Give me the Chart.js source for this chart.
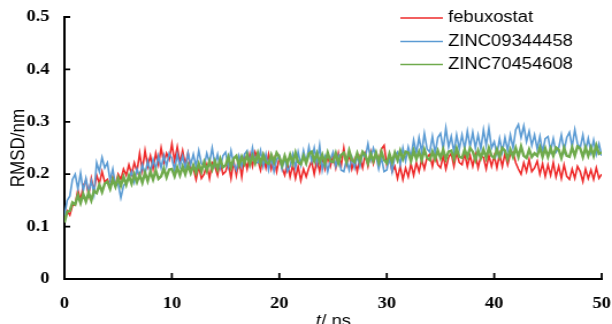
<!DOCTYPE html>
<html>
<head>
<meta charset="utf-8">
<script src="https://cdn.jsdelivr.net/npm/chart.js@4"></script>
<style>
  html, body { margin: 0; padding: 0; background: #fff; overflow: hidden; }
  /* the reference figure is stretched horizontally, so the chart is drawn narrower and scaled */
  #wrap { width: 532px; height: 324px; transform: scaleX(1.1504); transform-origin: 0 0; }
</style>
</head>
<body>
<div id="wrap"><canvas id="rmsd" width="532" height="324"></canvas></div>
<script>
// time step of the samples (ns)
const T_STEP = 0.25;

const seriesNames = ['febuxostat', 'ZINC09344458', 'ZINC70454608'];
const seriesColors = ['#ee2a2a', '#5b9bd3', '#6faa4c'];

// RMSD (nm), one row per ns, 4 samples per row
const febuxostat = [
  0.112, 0.13, 0.122, 0.14,
  0.142, 0.17, 0.15, 0.178,
  0.188, 0.16, 0.192, 0.168,
  0.198, 0.182, 0.205, 0.185,
  0.19, 0.175, 0.195, 0.178,
  0.2, 0.19, 0.21, 0.198,
  0.218, 0.2, 0.222, 0.205,
  0.24, 0.208, 0.245, 0.215,
  0.235, 0.21, 0.24, 0.218,
  0.25, 0.222, 0.24, 0.228,
  0.258, 0.225, 0.252, 0.222,
  0.245, 0.218, 0.24, 0.21,
  0.212, 0.19, 0.215, 0.192,
  0.2, 0.218, 0.192, 0.222,
  0.215, 0.198, 0.225, 0.2,
  0.205, 0.222, 0.192, 0.225,
  0.198, 0.228, 0.195, 0.232,
  0.21, 0.238, 0.215, 0.242,
  0.228, 0.208, 0.235, 0.212,
  0.238, 0.21, 0.23, 0.205,
  0.232, 0.212, 0.198, 0.222,
  0.195, 0.218, 0.192, 0.215,
  0.188, 0.21, 0.195, 0.212,
  0.225, 0.2, 0.228, 0.205,
  0.232, 0.21, 0.235, 0.215,
  0.235, 0.212, 0.24, 0.215,
  0.25, 0.218, 0.238, 0.21,
  0.228, 0.205, 0.232, 0.212,
  0.238, 0.215, 0.242, 0.22,
  0.24, 0.225, 0.248, 0.255,
  0.218, 0.232, 0.205, 0.215,
  0.192, 0.215, 0.19, 0.212,
  0.195, 0.22, 0.198, 0.222,
  0.205, 0.228, 0.21, 0.232,
  0.238, 0.215, 0.24, 0.218,
  0.212, 0.235, 0.21, 0.232,
  0.24, 0.215, 0.242, 0.222,
  0.218, 0.24, 0.215, 0.236,
  0.215, 0.238, 0.212, 0.235,
  0.232, 0.21, 0.236, 0.215,
  0.235, 0.212, 0.238, 0.215,
  0.24, 0.218, 0.238, 0.242,
  0.222, 0.21, 0.2, 0.222,
  0.205, 0.228, 0.205, 0.212,
  0.225, 0.2, 0.22, 0.196,
  0.218, 0.198, 0.222, 0.195,
  0.215, 0.192, 0.218, 0.196,
  0.19, 0.21, 0.192, 0.215,
  0.205, 0.186, 0.21, 0.192,
  0.208, 0.19, 0.212, 0.192,
  0.2
];

const zinc09344458 = [
  0.12, 0.15, 0.158, 0.19,
  0.2, 0.172, 0.202, 0.168,
  0.192, 0.165, 0.188, 0.162,
  0.222, 0.205, 0.232, 0.212,
  0.222, 0.188, 0.21, 0.178,
  0.182, 0.155, 0.178, 0.185,
  0.19, 0.205, 0.185, 0.21,
  0.195, 0.218, 0.2, 0.225,
  0.205, 0.228, 0.21, 0.235,
  0.212, 0.236, 0.215, 0.24,
  0.23, 0.208, 0.238, 0.215,
  0.235, 0.21, 0.24, 0.218,
  0.238, 0.215, 0.245, 0.22,
  0.215, 0.24, 0.222, 0.25,
  0.218, 0.238, 0.212, 0.235,
  0.242, 0.215, 0.245, 0.22,
  0.208, 0.235, 0.215, 0.238,
  0.245, 0.218, 0.25, 0.222,
  0.222, 0.245, 0.215, 0.238,
  0.208, 0.232, 0.205, 0.228,
  0.235, 0.21, 0.232, 0.205,
  0.215, 0.238, 0.212, 0.242,
  0.218, 0.245, 0.222, 0.252,
  0.225, 0.25, 0.22, 0.255,
  0.208, 0.232, 0.205, 0.228,
  0.242, 0.215, 0.235, 0.208,
  0.205, 0.228, 0.208, 0.232,
  0.212, 0.235, 0.215, 0.24,
  0.232, 0.258, 0.228, 0.25,
  0.235, 0.21, 0.232, 0.205,
  0.208, 0.232, 0.205, 0.235,
  0.242, 0.218, 0.25, 0.225,
  0.252, 0.232, 0.265, 0.24,
  0.27, 0.242, 0.278, 0.248,
  0.242, 0.272, 0.24, 0.27,
  0.278, 0.248, 0.288, 0.252,
  0.272, 0.242, 0.275, 0.248,
  0.275, 0.248, 0.282, 0.252,
  0.28, 0.25, 0.275, 0.248,
  0.285, 0.255, 0.288, 0.25,
  0.262, 0.238, 0.268, 0.242,
  0.27, 0.245, 0.275, 0.25,
  0.285, 0.295, 0.27, 0.292,
  0.262, 0.282, 0.255, 0.275,
  0.248, 0.272, 0.242, 0.268,
  0.272, 0.245, 0.268, 0.242,
  0.25, 0.275, 0.245, 0.27,
  0.28, 0.252, 0.285, 0.258,
  0.25, 0.275, 0.245, 0.268,
  0.242, 0.265, 0.238, 0.258,
  0.235
];

const zinc70454608 = [
  0.108, 0.128, 0.13, 0.146,
  0.142, 0.16, 0.145, 0.162,
  0.148, 0.165, 0.15, 0.168,
  0.164, 0.18, 0.166, 0.182,
  0.186, 0.172, 0.19, 0.176,
  0.193, 0.178, 0.195, 0.18,
  0.197, 0.182, 0.2, 0.185,
  0.199, 0.184, 0.203, 0.187,
  0.205, 0.19, 0.207, 0.191,
  0.196, 0.211, 0.194, 0.209,
  0.21, 0.196, 0.213, 0.198,
  0.215, 0.2, 0.217, 0.202,
  0.217, 0.203, 0.22, 0.205,
  0.223, 0.207, 0.225, 0.209,
  0.225, 0.21, 0.229, 0.213,
  0.217, 0.233, 0.213, 0.23,
  0.235, 0.217, 0.233, 0.22,
  0.237, 0.219, 0.235, 0.221,
  0.24, 0.221, 0.237, 0.223,
  0.22, 0.237, 0.223, 0.241,
  0.233, 0.217, 0.235, 0.22,
  0.237, 0.221, 0.241, 0.223,
  0.219, 0.235, 0.221, 0.239,
  0.243, 0.225, 0.24, 0.223,
  0.237, 0.22, 0.241, 0.225,
  0.223, 0.24, 0.221, 0.237,
  0.241, 0.223, 0.245, 0.227,
  0.223, 0.24, 0.225, 0.243,
  0.237, 0.221, 0.239, 0.225,
  0.241, 0.223, 0.243, 0.227,
  0.221, 0.239, 0.223, 0.241,
  0.227, 0.245, 0.229, 0.243,
  0.241, 0.225, 0.245, 0.229,
  0.243, 0.227, 0.247, 0.231,
  0.227, 0.243, 0.229, 0.245,
  0.231, 0.247, 0.229, 0.243,
  0.245, 0.229, 0.249, 0.233,
  0.231, 0.247, 0.233, 0.25,
  0.243, 0.227, 0.245, 0.231,
  0.247, 0.231, 0.25, 0.235,
  0.231, 0.247, 0.233, 0.25,
  0.245, 0.229, 0.247, 0.233,
  0.25, 0.233, 0.253, 0.235,
  0.231, 0.247, 0.233, 0.24,
  0.235, 0.251, 0.233, 0.249,
  0.233, 0.249, 0.235, 0.251,
  0.247, 0.231, 0.25, 0.235,
  0.233, 0.251, 0.235, 0.253,
  0.249, 0.233, 0.251, 0.235,
  0.251, 0.235, 0.255, 0.239,
  0.242
];

const xTicks = [0, 10, 20, 30, 40, 50];
const yTicks = [0, 0.1, 0.2, 0.3, 0.4, 0.5];

const allSeries = [febuxostat, zinc09344458, zinc70454608];
const toPoints = vals => vals.map((v, i) => ({ x: i * T_STEP, y: v }));

const TICK_FONT = { family: "'Liberation Serif', 'DejaVu Serif', serif", size: 16, weight: 'bold' };
const SANS = "'Liberation Sans', Arial, sans-serif";

// inward tick marks, axis titles and the in-plot legend
const decorations = {
  id: 'decorations',
  afterDraw(chart) {
    const { ctx, chartArea: area, scales: { x, y } } = chart;
    ctx.save();
    ctx.strokeStyle = '#000';
    ctx.lineWidth = 1.8;
    ctx.beginPath();
    xTicks.forEach(t => {
      const px = x.getPixelForValue(t);
      ctx.moveTo(px, area.bottom);
      ctx.lineTo(px, area.bottom - 6);
    });
    yTicks.forEach(t => {
      const py = y.getPixelForValue(t);
      ctx.moveTo(area.left, py);
      ctx.lineTo(area.left + 5, py);
    });
    ctx.stroke();

    // y title
    ctx.fillStyle = '#000';
    ctx.save();
    ctx.translate(16, (area.top + area.bottom) / 2);
    ctx.rotate(-Math.PI / 2);
    ctx.font = `17px ${SANS}`;
    ctx.textAlign = 'center';
    ctx.textBaseline = 'middle';
    ctx.fillText('RMSD/nm', 0, 0);
    ctx.restore();

    // x title: italic t, then "/ ns"
    ctx.textBaseline = 'alphabetic';
    ctx.textAlign = 'left';
    ctx.font = `italic 16px ${SANS}`;
    const tW = ctx.measureText('t').width;
    ctx.font = `16px ${SANS}`;
    const restW = ctx.measureText('/ ns').width;
    const cx = (area.left + area.right) / 2;
    const startX = cx - (tW + restW) / 2;
    ctx.font = `italic 16px ${SANS}`;
    ctx.fillText('t', startX, 326);
    ctx.font = `16px ${SANS}`;
    ctx.fillText('/ ns', startX + tW + 0.5, 326);

    // legend
    ctx.font = `16px ${SANS}`;
    ctx.textBaseline = 'middle';
    const rows = [18, 41.5, 64.5];
    seriesNames.forEach((name, i) => {
      ctx.strokeStyle = seriesColors[i];
      ctx.lineWidth = 1.3;
      ctx.beginPath();
      ctx.moveTo(348, rows[i]);
      ctx.lineTo(385, rows[i]);
      ctx.stroke();
      ctx.fillStyle = '#000';
      ctx.fillText(name, 389.5, rows[i]);
    });
    ctx.restore();
  }
};

new Chart(document.getElementById('rmsd').getContext('2d'), {
  type: 'line',
  data: {
    datasets: allSeries.map((vals, i) => ({
      label: seriesNames[i],
      data: toPoints(vals),
      borderColor: seriesColors[i],
      borderWidth: i === 2 ? 2.4 : 1.6,
      pointRadius: 0,
      tension: 0,
      fill: false,
      order: 2 - i   // green on top, red at the bottom
    }))
  },
  options: {
    responsive: false,
    animation: false,
    devicePixelRatio: 1,
    layout: { padding: { top: 17, right: 0, left: 0, bottom: 0 } },
    plugins: {
      legend: { display: false },
      tooltip: { enabled: false }
    },
    scales: {
      x: {
        type: 'linear',
        min: 0,
        max: 50,
        grid: { display: false },
        border: { display: true, color: '#000', width: 2 },
        ticks: {
          stepSize: 10,
          color: '#000',
          font: TICK_FONT,
          padding: 7,
          maxRotation: 0
        },
        afterFit: s => {
          s.height = 45;
          s.paddingLeft = 0;
          s.paddingRight = 9;
        }
      },
      y: {
        min: 0,
        max: 0.5,
        grid: { display: false },
        border: { display: true, color: '#000', width: 2 },
        ticks: {
          stepSize: 0.1,
          color: '#000',
          font: TICK_FONT,
          padding: 5,
          callback: v => (v === 0 ? '0' : v.toFixed(1))
        },
        afterFit: s => { s.width = 56; }
      }
    }
  },
  plugins: [decorations]
});
</script>
</body>
</html>
